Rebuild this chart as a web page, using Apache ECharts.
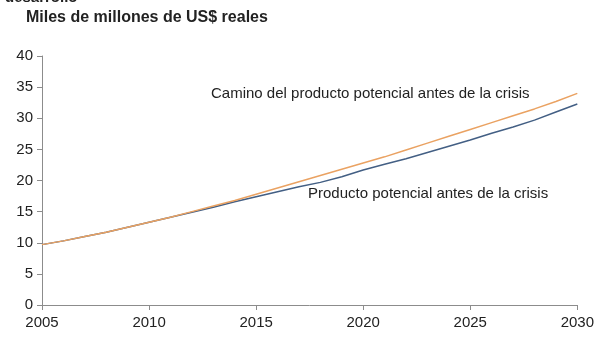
<!DOCTYPE html>
<html><head><meta charset="utf-8">
<script src="https://cdn.jsdelivr.net/npm/echarts@6/dist/echarts.min.js"></script>
<style>html,body{margin:0;padding:0;background:#fff}#c{width:597px;height:337px}</style>
</head><body><div id="c"></div>
<script>
const years = [2005,2006,2007,2008,2009,2010,2011,2012,2013,2014,2015,2016,2017,2018,2019,2020,2021,2022,2023,2024,2025,2026,2027,2028,2029,2030];
const caminoPreCrisis = [9.7,10.3,11.0,11.7,12.5,13.3,14.1,15.0,15.9,16.8,17.8,18.8,19.8,20.8,21.8,22.8,23.8,24.9,26.0,27.1,28.2,29.3,30.4,31.5,32.7,34.0];
const productoPotencial = [9.7,10.3,11.0,11.7,12.5,13.3,14.1,14.9,15.7,16.6,17.4,18.2,19.0,19.7,20.6,21.7,22.6,23.5,24.5,25.5,26.5,27.6,28.6,29.7,31.0,32.3];
const yTicks = [0,5,10,15,20,25,30,35,40];
const labelCamino = 'Camino del producto potencial antes de la crisis';
const labelProducto = 'Producto potencial antes de la crisis';
const subtitle = 'Miles de millones de US$ reales';
const cutTitle = 'desarrollo';

const chart = echarts.init(document.getElementById('c'));
const font = 'Liberation Sans, Arial, sans-serif';
const axisGray = '#8c8c8c';
chart.setOption({
  animation: false,
  grid: {left: 42, right: 16, top: 56, bottom: 32, containLabel: false},
  xAxis: {
    type: 'value', min: 2005, max: 2030, interval: 5,
    axisLine: {show: true, lineStyle: {color: axisGray, width: 1}},
    axisTick: {show: true, length: 5, lineStyle: {color: axisGray}},
    splitLine: {show: false},
    axisLabel: {color: '#222', fontSize: 15, fontFamily: font, margin: 10, formatter: v => String(v)}
  },
  yAxis: {
    type: 'value', min: yTicks[0], max: yTicks[yTicks.length-1], interval: 5,
    axisLine: {show: true, lineStyle: {color: axisGray, width: 1}},
    axisTick: {show: true, length: 5, lineStyle: {color: axisGray}},
    splitLine: {show: false},
    axisLabel: {color: '#222', fontSize: 15, fontFamily: font, margin: 9}
  },
  series: [
    {type: 'line', name: labelProducto, data: years.map((y,i)=>[y, productoPotencial[i]]), showSymbol: false, lineStyle: {color: '#435f84', width: 1.5}, itemStyle:{color:'#435f84'}},
    {type: 'line', name: labelCamino, data: years.map((y,i)=>[y, caminoPreCrisis[i]]), showSymbol: false, lineStyle: {color: '#eaa262', width: 1.5}, itemStyle:{color:'#eaa262'}}
  ],
  graphic: [
    {type: 'text', left: 5, top: -10, style: {text: cutTitle, font: 'bold 15px ' + font, fill: '#222'}},
    {type: 'text', left: 26, top: 10, style: {text: subtitle, font: 'bold 16px ' + font, fill: '#222'}},
    {type: 'text', left: 211, top: 86, style: {text: labelCamino, font: '15px ' + font, fill: '#222'}},
    {type: 'text', left: 308, top: 186, style: {text: labelProducto, font: '15px ' + font, fill: '#222'}}
  ]
});
</script></body></html>
